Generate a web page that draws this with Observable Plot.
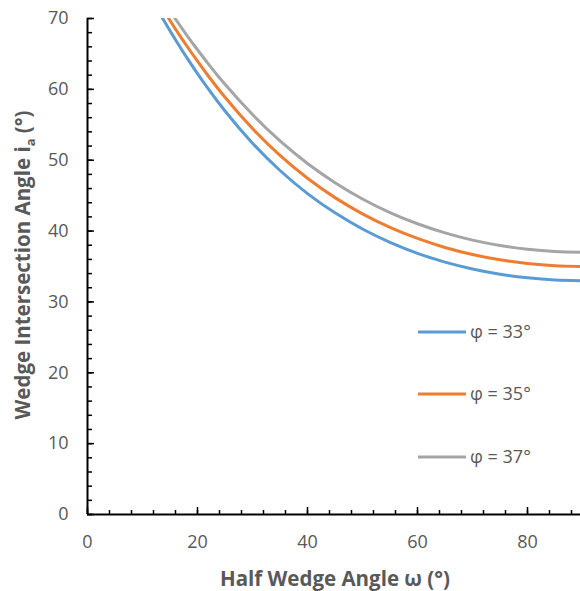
<!DOCTYPE html>
<html><head><meta charset="utf-8">
<script src="https://cdn.jsdelivr.net/npm/d3@7"></script>
<script src="https://cdn.jsdelivr.net/npm/@observablehq/plot@0.6"></script>
<style>body{margin:0;background:#fff} #chart{width:580px;height:591px;overflow:hidden}</style>
</head><body><div id="chart"></div>
<script>
// Half wedge angle ω (°)
const omega = [13,14,15,16,17,18,20,22,25,30,35,40,45,50,55,60,65,70,75,80,85,90];
// Wedge intersection angle i_a (°) for each friction angle φ
const ia33 = [70.90,69.57,68.27,67.00,65.76,64.55,62.23,60.02,56.94,52.40,48.55,45.29,42.57,40.29,38.41,36.86,35.62,34.65,33.91,33.40,33.10,33.00];
const ia35 = [72.19,70.94,69.72,68.51,67.34,66.19,63.97,61.85,58.89,54.47,50.68,47.45,44.72,42.43,40.52,38.96,37.69,36.69,35.94,35.41,35.10,35.00];
const ia37 = [73.38,72.20,71.04,69.91,68.80,67.70,65.59,63.57,60.71,56.44,52.72,49.54,46.83,44.53,42.61,41.03,39.74,38.72,37.96,37.42,37.11,37.00];
const seriesNames = ["φ = 33°","φ = 35°","φ = 37°"];
const seriesColors = ["#5B9BD5","#ED7D31","#A5A5A5"];
const xMajor = [0,20,40,60,80];
const xMinor = [0,4,8,12,16,20,24,28,32,36,40,44,48,52,56,60,64,68,72,76,80,84,88];
const yMajor = [0,10,20,30,40,50,60,70];
const yMinor = [0,2,4,6,8,10,12,14,16,18,20,22,24,26,28,30,32,34,36,38,40,42,44,46,48,50,52,54,56,58,60,62,64,66,68,70];
const xTitle = "Half Wedge Angle ω (°)";
const yTitleMain = "Wedge Intersection Angle i";
const yTitleSub = "a";
const yTitleEnd = " (°)";

const allSeries = [ia33, ia35, ia37];
const rows = [];
allSeries.forEach((vals, si) => vals.forEach((v, i) => rows.push({omega: omega[i], ia: v, series: seriesNames[si]})));

const FONT = "'Open Sans', 'Noto Sans', sans-serif";
const GREY = "#595959";

const plot = Plot.plot({
  width: 580, height: 591,
  marginLeft: 87, marginTop: 18, marginBottom: 77, marginRight: -2,
  style: {fontFamily: FONT, fontSize: "18px", background: "#fff", overflow: "visible"},
  x: {domain: [0, 90]},
  y: {domain: [0, 70]},
  color: {domain: seriesNames, range: seriesColors},
  marks: [
    Plot.line(rows, {x: "omega", y: "ia", stroke: "series", strokeWidth: 3, curve: "natural", clip: true}),
    Plot.axisX(xMinor, {tickSize: -4, tickFormat: () => "", label: null, stroke: "black", strokeWidth: 1.5}),
    Plot.axisX(xMajor, {tickSize: -7, tickFormat: () => "", label: null, stroke: "black", strokeWidth: 1.5}),
    Plot.axisX(xMajor, {tickSize: 0, tickPadding: 21, label: null, fill: GREY, fontSize: 18}),
    Plot.axisY(yMinor, {tickSize: -5, tickFormat: () => "", label: null, stroke: "black", strokeWidth: 1.5}),
    Plot.axisY(yMajor, {tickSize: -7, tickFormat: () => "", label: null, stroke: "black", strokeWidth: 1.5}),
    Plot.axisY(yMajor, {tickSize: 0, tickPadding: 19, label: null, fill: GREY, fontSize: 18}),
    Plot.ruleY([0], {stroke: "black", strokeWidth: 2}),
    Plot.ruleX([0], {stroke: "black", strokeWidth: 2})
  ]
});

const svg = d3.select(plot);
// Axis titles
svg.append("text")
  .attr("x", 335).attr("y", 586)
  .attr("text-anchor", "middle")
  .attr("font-family", FONT).attr("font-size", 20.5).attr("font-weight", "bold")
  .attr("fill", GREY)
  .text(xTitle);
const yt = svg.append("text")
  .attr("transform", "translate(30,265) rotate(-90)")
  .attr("text-anchor", "middle")
  .attr("font-family", FONT).attr("font-size", 20.5).attr("font-weight", "bold")
  .attr("fill", GREY);
yt.append("tspan").text(yTitleMain);
yt.append("tspan").attr("font-size", 13).attr("dy", 5).text(yTitleSub);
yt.append("tspan").attr("dy", -5).text(yTitleEnd);

// Legend
const legendY = [332, 394, 457];
seriesNames.forEach((name, i) => {
  const g = svg.append("g");
  g.append("line").attr("x1", 418).attr("x2", 466).attr("y1", legendY[i]).attr("y2", legendY[i])
    .attr("stroke", seriesColors[i]).attr("stroke-width", 3);
  g.append("text").attr("x", 470).attr("y", legendY[i]).attr("dy", "0.35em")
    .attr("text-anchor", "start")
    .attr("font-family", FONT).attr("font-size", 18).attr("fill", GREY).text(name);
});

document.getElementById("chart").appendChild(plot);
</script>
</body></html>
